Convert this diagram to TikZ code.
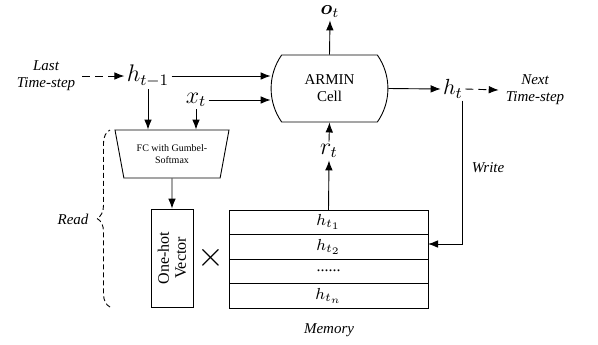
\documentclass[tikz,border=0pt]{standalone}
\usepackage{fontspec}
\setmainfont{Liberation Serif}
\usepackage{amsmath}
\usetikzlibrary{arrows.meta,shapes.misc,shapes.geometric,decorations.pathreplacing}

\begin{document}
\begin{tikzpicture}[x=0.5pt,y=-0.5pt,>={Latex[length=5pt,width=3.8pt]},line width=0.45pt,
  labelsty/.style={anchor=center,align=center,font=\fontsize{7.5}{8.5}\selectfont\itshape},
  mathsty/.style={anchor=center,inner sep=1pt,font=\fontsize{12}{14}\selectfont},
  cellsty/.style={draw,rounded rectangle,rounded rectangle arc length=70,
    minimum width=52.5pt,minimum height=33.5pt,align=center,font=\fontsize{7.5}{8.5}\selectfont},
  fcsty/.style={draw,trapezium,trapezium stretches body=true,trapezium left angle=65,
    trapezium right angle=65,shape border rotate=180,minimum width=57pt,minimum height=24pt,
    inner sep=0pt,align=center,font=\fontsize{5}{6}\selectfont},
  vecsty/.style={draw,rotate=90,minimum width=49pt,minimum height=21pt,inner sep=0pt,
    align=center,font=\fontsize{8}{8.5}\selectfont},
  memrow/.style={draw,minimum width=99.5pt,minimum height=12.25pt,inner sep=0pt,
    outer sep=0pt,font=\fontsize{8}{9}\selectfont},
  dashsty/.style={dash pattern=on 4pt off 2.5pt}]

  \useasboundingbox (0,0) rectangle (598,344);

  % cell and its inputs
  \draw node[cellsty] (cell) at (329.5,88.5) {ARMIN\\Cell};
  \draw node[labelsty] (last) at (46,76) {Last\\Time-step};
  \draw node[mathsty] (htm1) at (148,76) {$h_{t-1}$};
  \draw node[mathsty] (xt) at (196,100) {$x_t$};
  \draw node[mathsty,font=\fontsize{10}{12}\selectfont] (ot) at (330,12) {$\boldsymbol{o}_t$};
  \draw node[mathsty] (rt) at (329,151) {$r_t$};
  \draw node[mathsty,font=\fontsize{11}{13}\selectfont] (ht) at (453,89) {$h_t$};
  \draw node[labelsty] (next) at (535,90) {Next\\Time-step};

  % read part
  \draw node[fcsty] (fc) at (172,154) {FC with Gumbel-\\Softmax};
  \draw node[vecsty] (onehot) at (172,258) {One-hot\\Vector};
  \draw node[font=\fontsize{16}{16}\selectfont] (times) at (211,258) {$\times$};
  \draw node[labelsty] (read) at (73,219) {Read};

  % memory
  \draw node[memrow] (m1) at (328.5,222.25) {$h_{t_1}$};
  \draw node[memrow] (m2) at (328.5,246.75) {$h_{t_2}$};
  \draw node[memrow] (m3) at (328.5,271.25) {......};
  \draw node[memrow] (m4) at (328.5,295.75) {$h_{t_n}$};
  \draw node[labelsty] (memlabel) at (329,330) {Memory};
  \draw node[labelsty] (write) at (488,168) {Write};

  % connectors
  \draw[->,dashsty] (last.east) -- (htm1.west);
  \draw[->] (htm1.east) -- (htm1.east -| cell.west);
  \draw[->] (xt.east) -- (xt.east -| cell.west);
  \draw[->] (htm1.south) -- (htm1.south |- fc.north);
  \draw[->] (xt.south) -- (xt.south |- fc.north);
  \draw[->] (fc.south) -- (onehot.east);
  \draw[->] (cell.north) -- (ot.south);
  \draw[->] (m1.north) -- (rt.south);
  \draw[->] (rt.north) -- (cell.south);
  \draw[->] (cell.east) -- (ht.west);
  \draw[->,dashsty] (ht.east) -- (next.west);
  \coordinate (wr) at (462,244);
  \draw[->] (ht.south -| wr) -- (wr) -- (wr -| m2.east);

  % read brace
  \coordinate (rbot) at (110,307);
  \coordinate (rtop) at (110,130);
  \draw[dash pattern=on 2.5pt off 1.5pt,decorate,decoration={brace,amplitude=6.5pt}] (rbot) -- (rtop);

\end{tikzpicture}
\end{document}
